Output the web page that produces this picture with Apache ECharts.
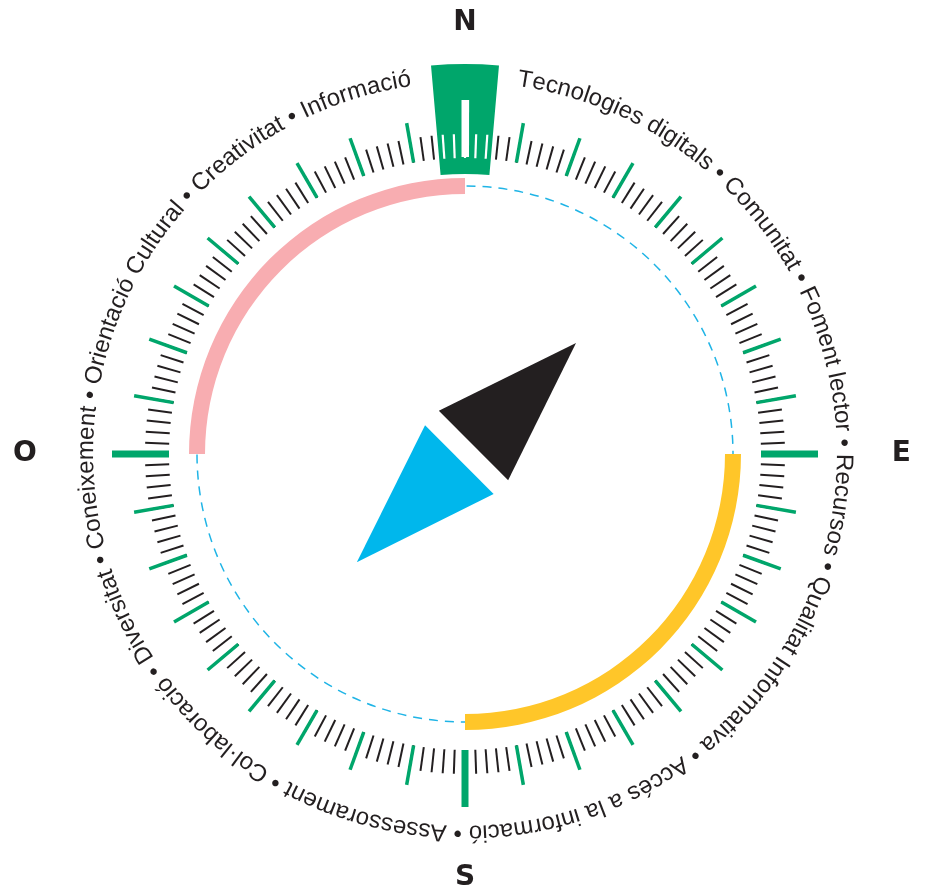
<!DOCTYPE html>
<html>
<head>
<meta charset="utf-8">
<script src="https://cdn.jsdelivr.net/npm/echarts@6.0.0/dist/echarts.min.js"></script>
<style>
  html, body { margin: 0; padding: 0; background: #ffffff; }
  #chart { width: 930px; height: 887px; }
</style>
</head>
<body>
<div id="chart"></div>
<script>
// ---------- data ----------
const cardinalLabels = ['N', 'E', 'S', 'O'];
const ringLabels = [
  'Tecnologies digitals', 'Comunitat', 'Foment lector', 'Recursos',
  'Qualitat Informativa', 'Accés a la informació', 'Assessorament',
  'Col·laboració', 'Diversitat', 'Coneixement', 'Orientació Cultural',
  'Creativitat', 'Informació'
];
const needleBearings = [45, 225];
const needleColors = ['#231f20', '#00b7ec'];
const arcStarts = [90, 270];
const arcEnds = [180, 360];
const arcColors = ['#ffc629', '#f8adb1'];

// ---------- style constants ----------
const CX = 465, CY = 454;
const INK = '#231f20';
const GREEN = '#00a66b';
const RING_FONT_SIZE = 24;
const RING_FONT = 'Liberation Sans';
const RING_BASE_R = 370;
const RING_TEXT_R = 378.5;
const RING_START = 8.0;
const RING_END = 351.8;

// ---------- ring text layout ----------
const ringChars = Array.from(ringLabels.join(' \u2022 '));
const mctx = document.createElement('canvas').getContext('2d');
mctx.font = RING_FONT_SIZE + 'px "' + RING_FONT + '"';
const widths = ringChars.map(c => mctx.measureText(c).width);
const total = widths.reduce((a, b) => a + b, 0);
const arcLen = (RING_END - RING_START) * Math.PI / 180 * RING_BASE_R;
const extra = (arcLen - total) / (ringChars.length - 1);
let acc = 0;
const ringData = ringChars.map((c, i) => {
  const mid = acc + widths[i] / 2;
  acc += widths[i] + extra;
  return [RING_TEXT_R, RING_START + mid / RING_BASE_R * 180 / Math.PI];
});

// ---------- arc colour stops ----------
const stops = [];
let last = 0;
arcStarts.forEach((s, i) => {
  if (s > last) stops.push([s / 360, 'rgba(0,0,0,0)']);
  stops.push([arcEnds[i] / 360, arcColors[i]]);
  last = arcEnds[i];
});
if (last < 360) stops.push([1, 'rgba(0,0,0,0)']);

function gauge(extraOpt) {
  return Object.assign({
    type: 'gauge', center: [CX, CY], startAngle: 90, endAngle: -270,
    min: 0, max: 360, splitNumber: 36, radius: 300,
    axisLine: { show: false, lineStyle: { width: 0 } },
    splitLine: { show: false }, axisTick: { show: false },
    axisLabel: { show: false }, pointer: { show: false },
    anchor: { show: false }, title: { show: false }, detail: { show: false },
    progress: { show: false },
    data: [{ value: 0 }], silent: true, animation: false
  }, extraOpt);
}

const richCardinal = {
  c0: { padding: [7, 0, 0, 0] },
  c1: { padding: [0, 6, 0, 0] },
  c2: { padding: [0, 0, 14, 0] },
  c3: { padding: [0, 0, 0, 0] }
};
Object.keys(richCardinal).forEach(k => Object.assign(richCardinal[k], {
  fontSize: 28, fontWeight: 'bold', fontFamily: 'DejaVu Sans', color: INK
}));

const option = {
  animation: false,
  backgroundColor: '#ffffff',
  polar: { center: [CX, CY], radius: 268 },
  angleAxis: {
    type: 'value', min: 0, max: 360, startAngle: 90, clockwise: true,
    axisLine: { show: true, lineStyle: { color: '#1fb4e6', width: 1.5, type: [9, 7] } },
    axisTick: { show: false }, axisLabel: { show: false },
    splitLine: { show: false }, splitArea: { show: false }
  },
  radiusAxis: {
    type: 'value', min: 0, max: 268,
    axisLine: { show: false }, axisTick: { show: false },
    axisLabel: { show: false }, splitLine: { show: false }, splitArea: { show: false }
  },
  series: [
    gauge({ z: 2, radius: 276,
      axisLine: { show: true, roundCap: false, lineStyle: { width: 16, color: stops } } }),
    gauge({ z: 3, radius: 320,
      axisTick: { show: true, splitNumber: 5, length: 24, distance: 0,
        lineStyle: { color: INK, width: 2 } } }),
    gauge({ z: 4, radius: 336,
      splitLine: { show: true, length: 40, distance: 0, lineStyle: { color: GREEN, width: 3.5 } } }),
    gauge({ z: 5, startAngle: 95, endAngle: 85, splitNumber: 1, radius: 390,
      axisLine: { show: true, lineStyle: { width: 110, color: [[1, GREEN]] } } }),
    gauge({ z: 6, splitNumber: 4, radius: 353,
      splitLine: { show: true, length: 57, distance: 0, lineStyle: { color: GREEN, width: 7 } },
      axisLabel: { show: true, distance: -156, fontSize: 28, fontWeight: 'bold',
        fontFamily: 'DejaVu Sans', color: INK,
        formatter: v => {
          const i = Math.round(v / 90);
          return i < cardinalLabels.length ? '{c' + i + '|' + cardinalLabels[i] + '}' : '';
        },
        rich: richCardinal } }),
    gauge({ z: 10, startAngle: 94, endAngle: 86, splitNumber: 4, radius: 320,
      splitLine: { show: true, length: 24, distance: 0,
        lineStyle: { color: '#ffffff', width: 2.2 } } }),
    gauge({ z: 11, startAngle: 90, endAngle: 89.9, splitNumber: 1, radius: 354,
      splitLine: { show: true, length: 57, distance: 0, lineStyle: { color: '#ffffff', width: 7 } } }),
    gauge({ z: 12, radius: 300,
      pointer: { show: true, icon: 'triangle', keepAspect: false, length: 145, width: 98 },
      data: needleBearings.map((b, i) => ({
        value: b,
        pointer: { show: true, length: 145, width: i === 0 ? 98 : 97,
          offsetCenter: [0, i === 0 ? -12 : -8] },
        itemStyle: { color: needleColors[i] }
      })) }),
    {
      type: 'custom', coordinateSystem: 'polar', z: 13, silent: true, animation: false,
      data: ringData,
      renderItem: function (params, api) {
        const p = api.coord([api.value(0), api.value(1)]);
        return {
          type: 'text', x: p[0], y: p[1],
          rotation: -api.value(1) * Math.PI / 180,
          style: {
            text: ringChars[params.dataIndex], fill: INK,
            fontSize: RING_FONT_SIZE, fontFamily: RING_FONT,
            align: 'center', verticalAlign: 'middle'
          }
        };
      }
    }
  ]
};

const chart = echarts.init(document.getElementById('chart'), null, { renderer: 'canvas' });
chart.setOption(option);
</script>
</body>
</html>
